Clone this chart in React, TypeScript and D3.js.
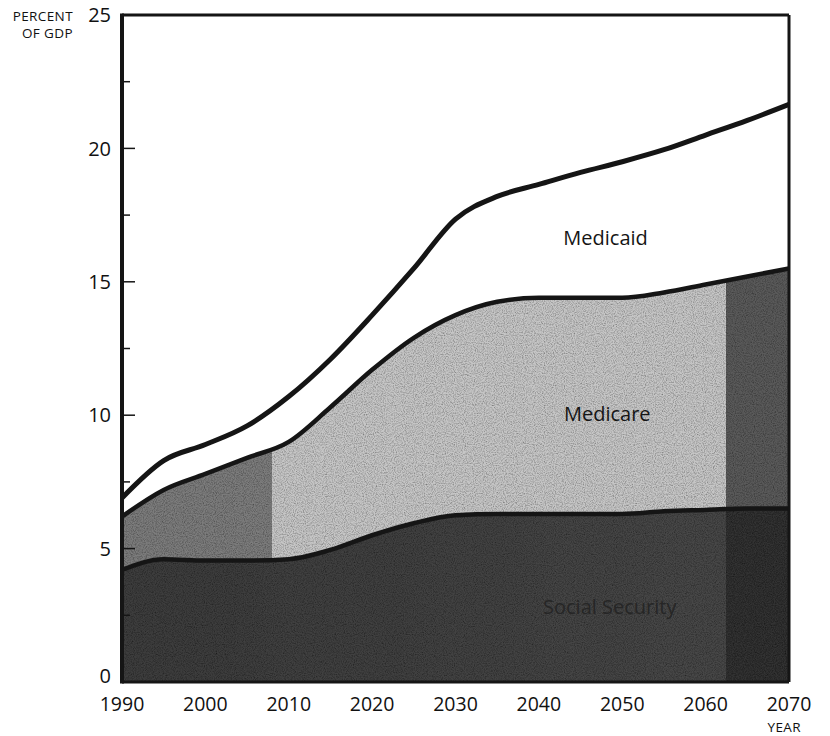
import React from "react";
import * as d3 from "d3";

const years = [1990, 1995, 2000, 2005, 2010, 2015, 2020, 2025, 2030, 2035, 2040, 2045, 2050, 2055, 2060, 2065, 2070];
const totalTop = [6.9, 8.3, 8.9, 9.6, 10.7, 12.1, 13.75, 15.5, 17.35, 18.2, 18.65, 19.1, 19.5, 19.95, 20.5, 21.05, 21.65];
const medicareTop = [6.2, 7.2, 7.8, 8.4, 9.0, 10.3, 11.7, 12.9, 13.75, 14.25, 14.4, 14.4, 14.4, 14.6, 14.9, 15.2, 15.5];
const socialSecurity = [4.2, 4.6, 4.55, 4.55, 4.6, 4.95, 5.5, 5.95, 6.25, 6.3, 6.3, 6.3, 6.3, 6.4, 6.45, 6.5, 6.5];
const medicare = medicareTop.map((v, i) => +(v - socialSecurity[i]).toFixed(2));
const medicaid = totalTop.map((v, i) => +(v - medicareTop[i]).toFixed(2));

const yTicks = [0, 5, 10, 15, 20, 25];
const yMinorTicks = [2.5, 7.5, 12.5, 17.5, 22.5];
const xTicks = [1990, 2000, 2010, 2020, 2030, 2040, 2050, 2060, 2070];
const shadeBands = [1990, 2008, 2062.5, 2070];

const labels = [
  { text: "Medicaid", year: 2048, value: 16.65 },
  { text: "Medicare", year: 2048.2, value: 10.05 },
  { text: "Social Security", year: 2048.5, value: 2.8 },
];

const FONT = "'Open Sans', 'DejaVu Sans', sans-serif";

export default function App() {
  const W = 830, H = 736;
  const x = d3.scaleLinear().domain([1990, 2070]).range([122, 789]);
  const y = d3.scaleLinear().domain([0, 25]).range([682, 15]);

  const rows = years.map((yr, i) => ({ year: yr, ss: socialSecurity[i], medicare: medicare[i], medicaid: medicaid[i] }));
  const stack = d3.stack<any>().keys(["ss", "medicare", "medicaid"]);
  const series = stack(rows);

  const curve = d3.curveMonotoneX;
  const area = d3.area<any>().x((d) => x(d.data.year)).y0((d) => y(d[0])).y1((d) => y(d[1])).curve(curve);
  const line = d3.line<any>().x((d) => x(d.data.year)).y((d) => y(d[1])).curve(curve);

  const x0 = x(shadeBands[0]);
  const x3 = x(shadeBands[3]);
  const off = (yr: number) => (x(yr) - x0) / (x3 - x0);

  const fills = ["url(#ssGrad)", "url(#mcGrad)", "#ffffff"];

  return (
    <div style={{ position: "absolute", left: 0, top: 0 }}>
      <svg width={W} height={H} style={{ display: "block", background: "#fff" }}>
        <defs>
          <linearGradient id="mcGrad" gradientUnits="userSpaceOnUse" x1={x0} x2={x3} y1={0} y2={0}>
            <stop offset={0} stopColor="#7c7c7c" />
            <stop offset={off(shadeBands[1])} stopColor="#7c7c7c" />
            <stop offset={off(shadeBands[1])} stopColor="#c6c6c6" />
            <stop offset={off(shadeBands[2])} stopColor="#c6c6c6" />
            <stop offset={off(shadeBands[2])} stopColor="#5a5a5a" />
            <stop offset={1} stopColor="#5a5a5a" />
          </linearGradient>
          <linearGradient id="ssGrad" gradientUnits="userSpaceOnUse" x1={x0} x2={x3} y1={0} y2={0}>
            <stop offset={0} stopColor="#3c3c3c" />
            <stop offset={off(shadeBands[2])} stopColor="#474747" />
            <stop offset={off(shadeBands[2])} stopColor="#303030" />
            <stop offset={1} stopColor="#303030" />
          </linearGradient>
          <filter id="grain" x="0" y="0" width="100%" height="100%">
            <feTurbulence type="fractalNoise" baseFrequency="0.9" numOctaves="2" seed="3" result="noise" />
            <feColorMatrix in="noise" type="matrix"
              values="0 0 0 0 0  0 0 0 0 0  0 0 0 0 0  0 0 0 1.2 -0.45" result="dots" />
            <feComposite in="dots" in2="SourceGraphic" operator="in" result="dotsIn" />
            <feMerge>
              <feMergeNode in="SourceGraphic" />
              <feMergeNode in="dotsIn" />
            </feMerge>
          </filter>
        </defs>

        {series.map((s, i) => (
          <path key={s.key} d={area(s) || ""} fill={fills[i]} filter={i < 2 ? "url(#grain)" : undefined} />
        ))}

        {series.map((s, i) => (
          <path key={"l" + s.key} d={line(s) || ""} fill="none" stroke="#151515" strokeWidth={i === 2 ? 5 : 4.5} strokeLinejoin="round" />
        ))}

        {/* frame */}
        <line x1={x(1990)} x2={x(2070)} y1={y(25)} y2={y(25)} stroke="#151515" strokeWidth={3} />
        <line x1={x(2070)} x2={x(2070)} y1={y(25)} y2={y(0)} stroke="#151515" strokeWidth={3} />
        <line x1={x(1990)} x2={x(2070)} y1={y(0)} y2={y(0)} stroke="#151515" strokeWidth={3} />
        <line x1={x(1990)} x2={x(1990)} y1={y(25) - 1.5} y2={y(0) + 1.5} stroke="#151515" strokeWidth={4} />

        {yTicks.filter((t) => t > 0 && t < 25).map((t) => (
          <line key={"yt" + t} x1={x(1990)} x2={x(1990) + 13} y1={y(t)} y2={y(t)} stroke="#151515" strokeWidth={1.5} />
        ))}
        {yMinorTicks.map((t) => (
          <line key={"ym" + t} x1={x(1990)} x2={x(1990) + 8} y1={y(t)} y2={y(t)} stroke="#151515" strokeWidth={1.5} />
        ))}

        {yTicks.map((t) => (
          <text key={"yl" + t} x={x(1990) - 11} y={y(t) - (t === 0 ? 6 : 0)} dy="0.36em" textAnchor="end" fontFamily={FONT} fontSize={20} fill="#111">{t}</text>
        ))}
        {xTicks.map((t) => (
          <text key={"xl" + t} x={x(t)} y={y(0) + 29} textAnchor="middle" fontFamily={FONT} fontSize={19.5} fill="#111">{t}</text>
        ))}

        <text x={73} y={21} textAnchor="end" fontFamily={FONT} fontSize={13.5} letterSpacing={0.4} fill="#111">PERCENT</text>
        <text x={73} y={38} textAnchor="end" fontFamily={FONT} fontSize={13.5} letterSpacing={0.4} fill="#111">OF GDP</text>
        <text x={801} y={732} textAnchor="end" fontFamily={FONT} fontSize={13.5} letterSpacing={0.4} fill="#111">YEAR</text>

        {labels.map((l, i) => (
          <text key={l.text} x={x(l.year)} y={y(l.value)} dy="0.36em" textAnchor="middle" fontFamily={FONT} fontSize={20}
            fill={i === 2 ? "#262626" : "#151515"}>{l.text}</text>
        ))}
      </svg>
    </div>
  );
}
